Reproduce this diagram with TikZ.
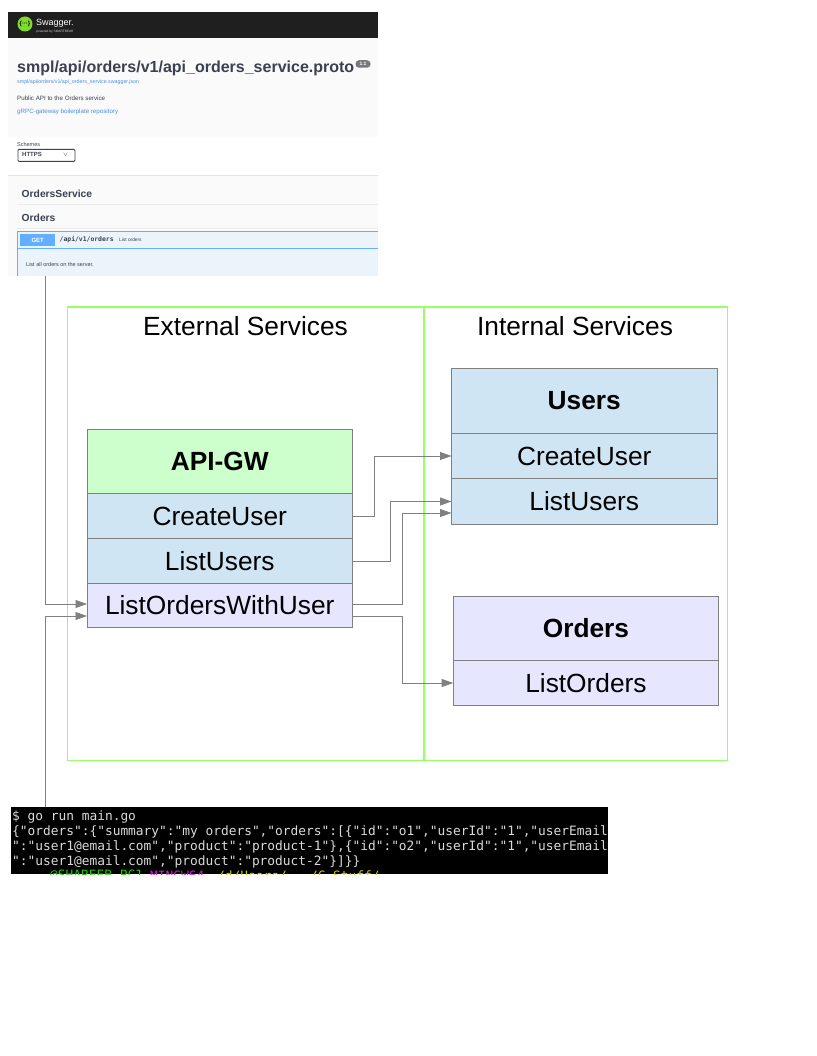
\documentclass[tikz,border=0pt]{standalone}
\usepackage{fontspec}
\setmainfont{Liberation Sans}
\setsansfont{Liberation Sans}
\setmonofont{DejaVu Sans Mono}
\usetikzlibrary{arrows.meta, calc, positioning}

\definecolor{svcblue}{HTML}{CFE5F3}
\definecolor{svcgreen}{HTML}{CCFFCC}
\definecolor{svcpurple}{HTML}{E6E6FF}
\definecolor{framegreen}{HTML}{99FF66}
\definecolor{swinfo}{HTML}{FAFAFA}
\definecolor{swink}{HTML}{3B4151}
\definecolor{swlink}{HTML}{4990E2}
\definecolor{swget}{HTML}{61AFFE}
\definecolor{swgetbg}{HTML}{EBF3FB}
\definecolor{swlogogreen}{HTML}{7FDC2C}
\definecolor{termgreen}{HTML}{19CB00}
\definecolor{termpink}{HTML}{CB1ED1}
\definecolor{termyellow}{HTML}{CDCB00}

\begin{document}
\begin{tikzpicture}[
    x=1pt, y=-1pt,
    frame/.style={draw=framegreen, line width=1.1pt, anchor=north west, inner sep=0pt, outer sep=0pt},
    grouplbl/.style={font=\fontsize{26.3}{29}\selectfont},
    svctitle/.style={draw=gray, line width=0.7pt, minimum width=265.5pt, inner sep=0pt, outer sep=0pt, anchor=north west, font=\fontsize{26.3}{29}\selectfont\bfseries},
    svcrow/.style={draw=gray, line width=0.7pt, minimum width=265.5pt, inner sep=0pt, outer sep=0pt, anchor=north, font=\fontsize{26.3}{29}\selectfont},
    link/.style={draw=gray, line width=0.8pt, -{Triangle[length=11.5pt,width=8pt]}},
    band/.style={inner sep=0pt, anchor=north west},
    swlbl/.style={inner sep=0pt, anchor=west, text=swink},
    termline/.style={inner sep=0pt, anchor=west, text=white!85!black, font=\ttfamily\fontsize{12.85}{14}\selectfont},
]
\useasboundingbox (0,0) rectangle (816,1056);

% === Swagger screenshot ===
\node[band, fill=white, minimum width=370pt, minimum height=264pt] (swagger) at (8,12) {};
\node[band, fill=black!88, minimum width=370pt, minimum height=26pt] (swhead) at (8,12) {};
\node[band, fill=swinfo, minimum width=370pt, minimum height=99pt] (swinfobg) at (8,38) {};
\node[circle, fill=swlogogreen, minimum size=15pt, inner sep=0pt, text=black, font=\fontsize{6}{7}\selectfont\bfseries] (swlogo) at (25,24) {\{···\}};
\node[inner sep=0pt, anchor=west, text=white, font=\fontsize{9}{11}\selectfont] (swname) at (36,23) {Swagger.};
\node[inner sep=0pt, anchor=west, text=white!80!black, font=\fontsize{3.2}{4}\selectfont] (swby) at (36,32) {powered by SMARTBEAR};
\node[swlbl, font=\fontsize{16}{18}\selectfont\bfseries] (swtitle) at (17,68.5) {smpl/api/orders/v1/api\_orders\_service.proto};
\node[fill=gray!90!swink, rounded corners=3.5pt, inner sep=0pt, minimum width=15pt, minimum height=7.5pt, text=white, font=\fontsize{5}{6}\selectfont\bfseries] (swver) at (363,64) {1.1};
\node[swlbl, text=swlink, font=\fontsize{5.3}{6}\selectfont] (swurl) at (17,82) {smpl/api/orders/v1/api\_orders\_service.swagger.json};
\node[swlbl, font=\fontsize{6.2}{7}\selectfont] (swdesc) at (17,98) {Public API to the Orders service};
\node[swlbl, text=swlink, font=\fontsize{6.2}{7}\selectfont] (swrepo) at (17,111.5) {gRPC-gateway boilerplate repository};
\node[swlbl, font=\fontsize{5.5}{6}\selectfont] (swschemes) at (17,145) {Schemes};
\node[band, draw=swink, line width=0.8pt, rounded corners=1pt, minimum width=57pt, minimum height=12pt] (swselect) at (17.5,149) {};
\node[swlbl, font=\fontsize{6}{7}\selectfont\bfseries] (swhttps) at (22,154.5) {HTTPS};
\node[swlbl, font=\fontsize{6}{7}\selectfont] (swchev) at (63,154.5) {$\vee$};
\node[band, fill=swinfo, minimum width=370pt, minimum height=101pt] (swops) at (8,175) {};
\draw[black!10, line width=0.8pt] (swops.north west) -- (swops.north east);
\node[swlbl, font=\fontsize{10.3}{12}\selectfont\bfseries] (swservice) at (21.5,193.5) {OrdersService};
\draw[black!8, line width=0.6pt] (17,204.5) -- (swops.east |- 0,204.5);
\node[swlbl, font=\fontsize{10.3}{12}\selectfont\bfseries] (sworders) at (21.5,217.5) {Orders};
\draw[black!8, line width=0.6pt] (17,228.5) -- (swops.east |- 0,228.5);
\node[band, fill=swgetbg, minimum width=361pt, minimum height=45pt] (swop) at (17,231) {};
\draw[swget, line width=0.7pt] (swop.south west) -- (swop.north west) -- (swop.north east);
\draw[swget, line width=0.7pt] (17,248.5) -- (378,248.5);
\node[band, fill=swget, text=white, minimum width=35pt, minimum height=12pt, font=\fontsize{6}{7}\selectfont\bfseries] (swgetbtn) at (20,234) {GET};
\node[swlbl, font=\ttfamily\fontsize{6.4}{8}\selectfont\bfseries] (swpath) at (59.5,240) {/api/v1/orders};
\node[swlbl, font=\fontsize{4.8}{6}\selectfont] (swsum) at (119,240) {List orders};
\node[swlbl, font=\fontsize{5.5}{6}\selectfont] (swlist) at (26,265) {List all orders on the server.};
\coordinate (swaggerOut) at (45,276);

% === Frames ===
\node[frame, minimum width=356.5pt, minimum height=453.5pt] (external) at (67.5,307) {};
\node[frame, minimum width=303.5pt, minimum height=453.5pt] (internal) at (424,307) {};
\node[grouplbl] (externalLbl) at (245.5,326) {External Services};
\node[grouplbl] (internalLbl) at (575,326) {Internal Services};

% === API gateway ===
\node[svctitle, fill=svcgreen, minimum height=64pt] (apiTitle) at (87,429.5) {API-GW};
\node[svcrow, fill=svcblue, minimum height=45pt, below=0pt of apiTitle] (apiCreate) {CreateUser};
\node[svcrow, fill=svcblue, minimum height=45pt, below=0pt of apiCreate] (apiList) {ListUsers};
\node[svcrow, fill=svcpurple, minimum height=44pt, below=0pt of apiList] (apiOrders) {ListOrdersWithUser};

% === Users ===
\node[svctitle, fill=svcblue, minimum height=65pt] (usersTitle) at (451.5,368.5) {Users};
\node[svcrow, fill=svcblue, minimum height=45pt, below=0pt of usersTitle] (usersCreate) {CreateUser};
\node[svcrow, fill=svcblue, minimum height=46pt, below=0pt of usersCreate] (usersList) {ListUsers};

% === Orders ===
\node[svctitle, fill=svcpurple, minimum height=64pt] (ordersTitle) at (453.2,596.5) {Orders};
\node[svcrow, fill=svcpurple, minimum height=45pt, below=0pt of ordersTitle] (ordersList) {ListOrders};

% === Terminal screenshot ===
\node[band, fill=black, minimum width=597pt, minimum height=67pt] (terminal) at (11,807) {};
\node[termline] (termCmd) at (12,817) {\$ go run main.go};
\node[termline] (termOut1) at (12,832) {\{"orders":\{"summary":"my orders","orders":[\{"id":"o1","userId":"1","userEmail};
\node[termline] (termOut2) at (12,847) {":"user1@email.com","product":"product-1"\},\{"id":"o2","userId":"1","userEmail};
\node[termline] (termOut3) at (12,862) {":"user1@email.com","product":"product-2"\}]\}\}};
\begin{scope}
    \clip (terminal.north west) rectangle (terminal.south east);
    \node[termline, text=termgreen] (termHost) at (50,876) {@SHAREEB-PC1};
    \node[termline, text=termpink] (termShell) at (150,876) {MINGW64};
    \node[termline, text=termyellow] (termDir) at (217,876) {/d/Users/.../C-Stuff/...};
\end{scope}
\coordinate (terminalOut) at (45,807);

% === Connectors ===
\draw[link] (apiCreate.east) -- ++(21.5,0) |- (usersCreate.west);
\draw[link] (apiList.east) -- ++(37.5,0) |- (usersList.west);
\draw[link] ([yshift=1.5pt]apiOrders.east) -- ++(49.5,0) |- ([yshift=-11.5pt]usersList.west);
\draw[link] ([yshift=-10.5pt]apiOrders.east) -- ++(49.5,0) |- (ordersList.west);
\draw[link] (swaggerOut) |- ([yshift=1.5pt]apiOrders.west);
\draw[link] (terminalOut) |- ([yshift=-10.5pt]apiOrders.west);
\end{tikzpicture}
\end{document}
